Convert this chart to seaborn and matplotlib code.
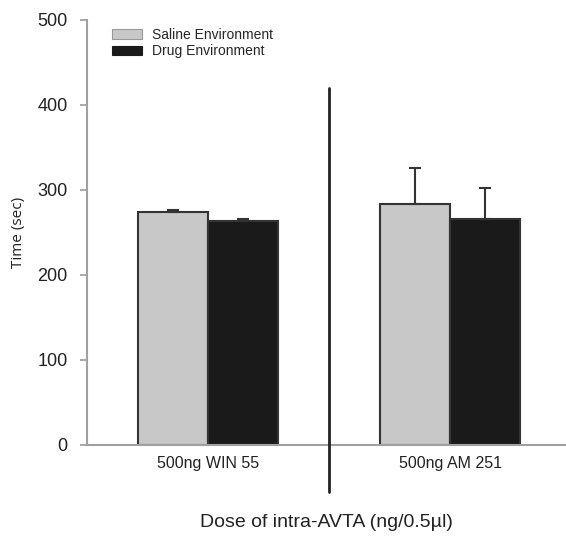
import matplotlib
matplotlib.use("Agg")
import matplotlib.pyplot as plt
import seaborn as sns
import pandas as pd
from matplotlib.patches import Patch

# Conditional place preference data: time spent in each environment
doses = ["500ng WIN 55", "500ng AM 251"]
environments = ["Saline Environment", "Drug Environment"]
saline_time = [274, 284]
drug_time = [263, 266]
saline_sem = [3, 42]
drug_sem = [3, 36]

df = pd.DataFrame({
    "dose": doses * 2,
    "env": [environments[0]] * 2 + [environments[1]] * 2,
    "time": saline_time + drug_time,
    "sem": saline_sem + drug_sem,
})

sns.set_style("white")
plt.rcParams["font.family"] = ["Liberation Sans", "DejaVu Sans"]

fig = plt.figure(figsize=(5.66, 5.39), dpi=100)
ax = fig.add_axes([0.1537, 0.1744, 0.8463, 0.7885])

colors = {"Saline Environment": "#c8c8c8", "Drug Environment": "#1a1a1a"}
sns.barplot(data=df, x="dose", y="time", hue="env", hue_order=environments,
            order=doses, palette=colors, width=0.58, errorbar=None,
            edgecolor="#333333", linewidth=1.5, saturation=1, ax=ax, legend=False)

# one-sided (upper) SEM bars on every bar
for container, env in zip(ax.containers, environments):
    sub = df[df["env"] == env].set_index("dose").loc[doses]
    xs = [p.get_x() + p.get_width() / 2 for p in container.patches]
    ax.errorbar(xs, sub["time"], yerr=[[0] * len(xs), sub["sem"]], fmt="none",
                ecolor="#333333", elinewidth=1.5, capsize=4, capthick=1.5, zorder=5)

ax.set_ylim(0, 500)
ax.set_xlim(-0.5, 1.479)
ax.set_yticks([0, 100, 200, 300, 400, 500])
ax.tick_params(axis="y", direction="out", length=5, width=1.2, color="#999999",
               labelsize=13, labelcolor="#222222", pad=9, left=True)
ax.tick_params(axis="x", length=0, labelsize=11.5, labelcolor="#222222", pad=8)

for side in ["top", "right"]:
    ax.spines[side].set_visible(False)
for side in ["left", "bottom"]:
    ax.spines[side].set_color("#a0a0a0")
    ax.spines[side].set_linewidth(1.5)

# separator between the two drug conditions
ax.plot([0.5, 0.5], [420, -55], color="#222222", lw=2, clip_on=False, zorder=6)

ax.set_xlabel("Dose of intra-AVTA (ng/0.5µl)", fontsize=14, color="#222222", labelpad=31)
ax.set_ylabel("Time (sec)", fontsize=11, color="#222222", labelpad=8,
              family=["Open Sans", "DejaVu Sans"])

handles = [Patch(facecolor=colors[e], edgecolor="#999999" if i == 0 else "#1a1a1a", lw=0.8)
           for i, e in enumerate(environments)]
ax.legend(handles, environments, loc="upper left", bbox_to_anchor=(0.04, 0.995),
          frameon=False, fontsize=10, handlelength=2.2, handleheight=0.7,
          labelspacing=0.2, handletextpad=0.7, borderaxespad=0)

fig.savefig("out.png", dpi=100)
